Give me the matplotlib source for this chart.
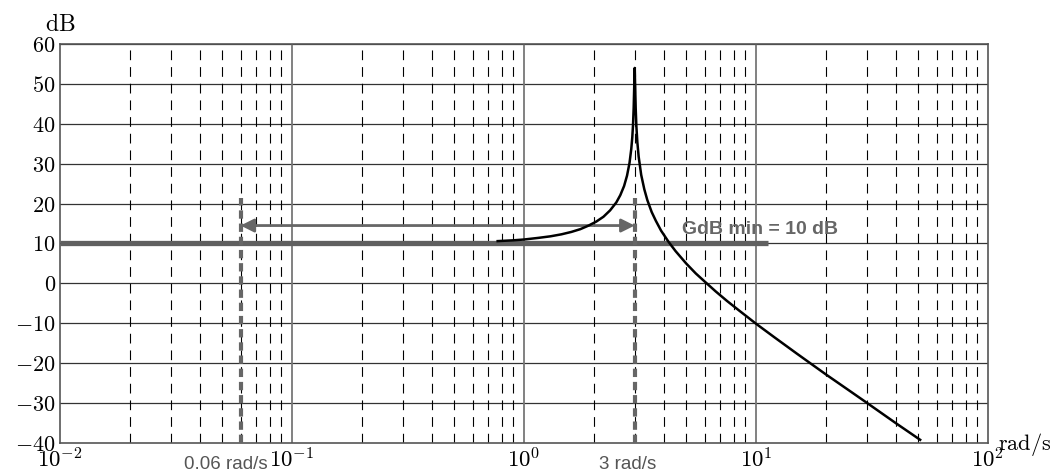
import matplotlib
matplotlib.use('Agg')
import matplotlib.pyplot as plt

# gain curve (rad/s, dB)
w = [0.77, 0.9, 1.0, 1.15, 1.3, 1.45, 1.6, 1.75, 1.9, 2.05, 2.2, 2.35,
     2.5, 2.6, 2.7, 2.78, 2.85, 2.9, 2.93, 2.95, 2.97, 2.985, 3.0,
     3.015, 3.03, 3.05, 3.08, 3.12, 3.2, 3.3, 3.4, 3.55, 3.7, 3.9, 4.2,
     4.5, 5.0, 5.5, 6.0, 6.7, 7.5, 8.5, 10.0, 12.0, 15.0, 20.0, 25.0,
     30.0, 40.0, 51.0]
gdb = [10.6, 10.8, 11.0, 11.4, 11.8, 12.3, 12.9, 13.6, 14.5, 15.5, 16.7, 18.3,
       20.3, 22.1, 24.4, 27.0, 30.2, 33.7, 36.7, 39.6, 44.0, 49.0, 54.0,
       49.0, 43.9, 39.5, 35.4, 31.8, 27.2, 23.6, 20.9, 17.9, 15.7, 13.2, 10.4,
       8.1, 5.0, 2.5, 0.5, -2.0, -4.4, -6.9, -10.1, -13.5, -17.6, -22.8, -26.7,
       -29.9, -35.0, -39.2]

gdb_min = 10
gdb_min_end = 11.3
w_low = 0.06
w_high = 3.0
marker_top = 21.5
arrow_level = 14.5

decades = [0.01, 0.1, 1, 10, 100]
decade_labels = [r'$10^{-2}$', r'$10^{-1}$', r'$10^{0}$', r'$10^{1}$', r'$10^{2}$']
yticks = list(range(-40, 61, 10))

plt.rcParams['mathtext.fontset'] = 'cm'
plt.rcParams['lines.scale_dashes'] = False

fig = plt.figure(figsize=(10.54, 4.71), dpi=100)
ax = fig.add_axes([60 / 1054, 1 - 443 / 471, 928 / 1054, 399 / 471])
ax.set_xscale('log')
ax.set_xlim(0.01, 100)
ax.set_ylim(-40, 60)

# grid
for y in yticks[1:]:
    ax.axhline(y, color='#333333', lw=0.9, zorder=1)
for d in decades[:-1]:
    for k in range(2, 10):
        ax.axvline(d * k, color='black', lw=0.8, dashes=(7, 5), zorder=1)
    if d > 0.01:
        ax.axvline(d, color='#777777', lw=1.3, zorder=1)

for s in ax.spines.values():
    s.set_color('#555555')
    s.set_linewidth(1.2)

ax.set_xticks(decades)
ax.set_xticklabels(decade_labels, fontsize=16.5)
ax.set_yticks(yticks)
ax.set_yticklabels(['$%d$' % v for v in yticks], fontsize=16)
ax.minorticks_off()
ax.tick_params(axis='x', length=0, pad=4)
ax.tick_params(axis='y', length=0, pad=3)

# minimum gain line
ax.plot([0.01, gdb_min_end], [gdb_min, gdb_min], color='#606060', lw=3.8,
        solid_capstyle='butt', zorder=3)

# frequency band markers
for wm in [w_low, w_high]:
    ax.plot([wm, wm], [-40, marker_top], color='#666666', lw=3,
            dashes=(6, 3.5), zorder=4)
ax.annotate('', xy=(w_low, arrow_level), xytext=(w_high, arrow_level),
            arrowprops=dict(arrowstyle='<|-|>', color='#666666', lw=2,
                            mutation_scale=20, shrinkA=0, shrinkB=0),
            zorder=4)

ax.plot(w, gdb, color='black', lw=1.8, zorder=5)

ax.text(4.8, 13.6, 'GdB min = 10 dB', color='#666666', fontsize=14,
        fontweight='bold', family='Liberation Sans', va='center', ha='left',
        zorder=6)

fig.text(268 / 1054, 1 - 469 / 471, '0.06 rad/s', color='#555555', fontsize=13.5,
         family='Liberation Sans', ha='right', va='baseline')
fig.text(628 / 1054, 1 - 469 / 471, '3 rad/s', color='#555555', fontsize=13.5,
         family='Liberation Sans', ha='center', va='baseline')

fig.text(60 / 1054, 1 - 24 / 471, r'$\mathrm{dB}$', fontsize=17,
         ha='center', va='center')
fig.text(998 / 1054, 1 - 444 / 471, r'$\mathrm{rad/s}$', fontsize=16,
         ha='left', va='center')

fig.savefig('out.png', dpi=100)
